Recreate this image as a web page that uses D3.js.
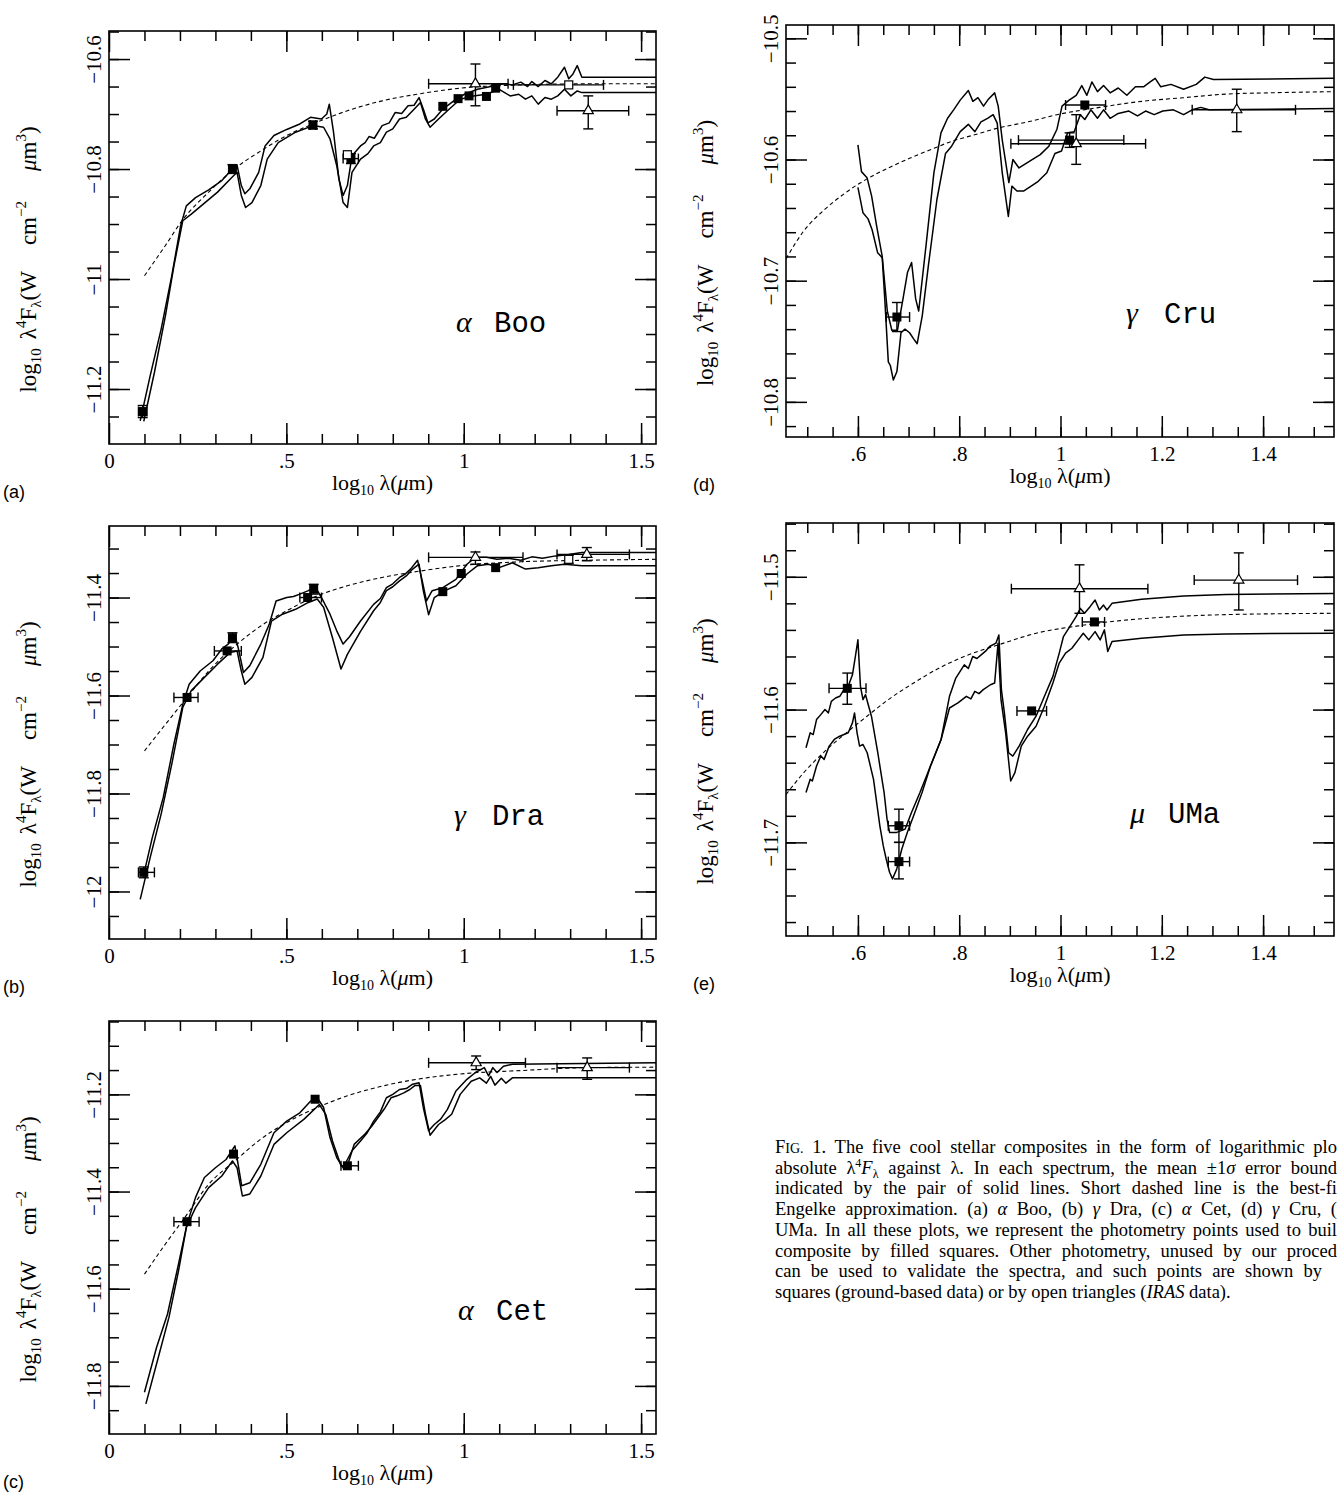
<!DOCTYPE html>
<html>
<head>
<meta charset="utf-8">
<script src="https://cdn.jsdelivr.net/npm/d3@7"></script>
<style>
  body { margin: 0; background: #fff; }
  svg { display: block; }
</style>
</head>
<body>
<svg id="fig" width="1337" height="1492"></svg>
<script>
// ---- (a) alpha Boo ----
var booHi = [[0.088,-11.258],[0.116,-11.176],[0.147,-11.091],[0.177,-10.994],[0.202,-10.903],[0.218,-10.867],[0.244,-10.852],[0.281,-10.838],[0.318,-10.821],[0.348,-10.800],[0.361,-10.793],[0.373,-10.830],[0.383,-10.845],[0.397,-10.836],[0.422,-10.806],[0.440,-10.758],[0.465,-10.739],[0.501,-10.728],[0.538,-10.718],[0.568,-10.706],[0.599,-10.709],[0.614,-10.700],[0.621,-10.682],[0.633,-10.733],[0.648,-10.818],[0.660,-10.848],[0.672,-10.830],[0.685,-10.776],[0.709,-10.758],[0.722,-10.752],[0.733,-10.741],[0.748,-10.744],[0.770,-10.721],[0.790,-10.716],[0.807,-10.697],[0.825,-10.699],[0.843,-10.685],[0.860,-10.684],[0.874,-10.670],[0.886,-10.691],[0.899,-10.716],[0.917,-10.709],[0.941,-10.691],[0.972,-10.676],[1.002,-10.664],[1.039,-10.655],[1.076,-10.650],[1.112,-10.645],[1.137,-10.647],[1.161,-10.642],[1.180,-10.650],[1.192,-10.641],[1.210,-10.650],[1.229,-10.639],[1.247,-10.645],[1.265,-10.633],[1.284,-10.615],[1.296,-10.636],[1.308,-10.627],[1.320,-10.612],[1.333,-10.633],[1.542,-10.633]];
var booLo = [[0.098,-11.259],[0.128,-11.170],[0.159,-11.067],[0.183,-10.976],[0.208,-10.894],[0.232,-10.882],[0.269,-10.862],[0.306,-10.842],[0.342,-10.818],[0.361,-10.806],[0.373,-10.848],[0.385,-10.870],[0.403,-10.861],[0.428,-10.830],[0.446,-10.782],[0.477,-10.752],[0.526,-10.733],[0.575,-10.721],[0.605,-10.724],[0.623,-10.745],[0.642,-10.794],[0.660,-10.861],[0.672,-10.870],[0.685,-10.806],[0.709,-10.782],[0.730,-10.772],[0.746,-10.758],[0.765,-10.752],[0.782,-10.733],[0.800,-10.727],[0.819,-10.709],[0.838,-10.706],[0.856,-10.694],[0.878,-10.679],[0.892,-10.709],[0.905,-10.724],[0.929,-10.709],[0.954,-10.694],[0.990,-10.673],[1.027,-10.667],[1.064,-10.664],[1.100,-10.655],[1.131,-10.667],[1.155,-10.664],[1.174,-10.673],[1.192,-10.667],[1.210,-10.682],[1.229,-10.670],[1.247,-10.673],[1.265,-10.667],[1.284,-10.655],[1.302,-10.667],[1.320,-10.658],[1.333,-10.661],[1.542,-10.661]];
var booFit = [[0.100,-10.994],[0.159,-10.939],[0.208,-10.892],[0.281,-10.842],[0.355,-10.799],[0.428,-10.767],[0.501,-10.739],[0.575,-10.718],[0.672,-10.694],[0.770,-10.676],[0.868,-10.664],[0.990,-10.653],[1.161,-10.647],[1.345,-10.645],[1.542,-10.645]];
var booSq = [
  {x:0.095, y:-11.241, ex:[0.083,0.107], ey:[-11.252,-11.230]},
  {x:0.348, y:-10.800, ex:[0.340,0.356], ey:[-10.808,-10.792]},
  {x:0.575, y:-10.720, ex:[0.567,0.583], ey:[-10.727,-10.713]},
  {x:0.682, y:-10.781, ex:[0.660,0.703], ey:[-10.790,-10.772]},
  {x:0.941, y:-10.686}, {x:0.984, y:-10.672}, {x:1.015, y:-10.667},
  {x:1.064, y:-10.668}, {x:1.090, y:-10.653}
];
var booOpen = [{x:0.672, y:-10.774}, {x:1.296, y:-10.647, ex:[1.140,1.394]}];
var booTri = [
  {x:1.033, y:-10.645, ex:[0.901,1.125], ey:[-10.685,-10.609]},
  {x:1.351, y:-10.694, ex:[1.263,1.465], ey:[-10.727,-10.667]}
];

// ---- (b) gamma Dra ----
var draHi = [[0.098,-11.965],[0.122,-11.890],[0.153,-11.808],[0.183,-11.699],[0.208,-11.618],[0.226,-11.577],[0.257,-11.550],[0.293,-11.529],[0.318,-11.505],[0.336,-11.495],[0.355,-11.478],[0.364,-11.502],[0.379,-11.553],[0.397,-11.539],[0.428,-11.495],[0.452,-11.454],[0.471,-11.407],[0.501,-11.400],[0.520,-11.398],[0.538,-11.393],[0.562,-11.386],[0.581,-11.378],[0.599,-11.400],[0.623,-11.434],[0.642,-11.468],[0.660,-11.495],[0.678,-11.480],[0.709,-11.448],[0.746,-11.414],[0.765,-11.402],[0.782,-11.380],[0.800,-11.372],[0.819,-11.359],[0.835,-11.352],[0.850,-11.342],[0.870,-11.324],[0.883,-11.366],[0.895,-11.407],[0.911,-11.386],[0.941,-11.380],[0.978,-11.363],[1.009,-11.332],[1.033,-11.318],[1.064,-11.318],[1.094,-11.322],[1.125,-11.320],[1.161,-11.324],[1.192,-11.317],[1.222,-11.320],[1.259,-11.315],[1.296,-11.312],[1.333,-11.308],[1.542,-11.308]];
var draLo = [[0.088,-12.016],[0.116,-11.931],[0.147,-11.842],[0.177,-11.740],[0.208,-11.624],[0.232,-11.590],[0.269,-11.563],[0.306,-11.536],[0.342,-11.512],[0.361,-11.509],[0.373,-11.550],[0.383,-11.577],[0.403,-11.563],[0.434,-11.522],[0.458,-11.448],[0.489,-11.434],[0.526,-11.424],[0.562,-11.410],[0.587,-11.403],[0.605,-11.420],[0.630,-11.482],[0.654,-11.546],[0.672,-11.516],[0.709,-11.469],[0.746,-11.427],[0.765,-11.410],[0.782,-11.386],[0.800,-11.378],[0.819,-11.366],[0.838,-11.356],[0.856,-11.342],[0.874,-11.332],[0.886,-11.386],[0.901,-11.435],[0.917,-11.400],[0.947,-11.386],[0.978,-11.376],[1.009,-11.352],[1.039,-11.335],[1.070,-11.332],[1.100,-11.339],[1.137,-11.329],[1.174,-11.342],[1.210,-11.339],[1.247,-11.335],[1.284,-11.332],[1.333,-11.335],[1.542,-11.335]];
var draFit = [[0.100,-11.713],[0.159,-11.659],[0.220,-11.604],[0.281,-11.550],[0.355,-11.499],[0.428,-11.458],[0.501,-11.427],[0.575,-11.400],[0.672,-11.376],[0.770,-11.359],[0.868,-11.347],[0.990,-11.335],[1.161,-11.327],[1.345,-11.324],[1.542,-11.322]];
var draSq = [
  {x:0.098, y:-11.961, ex:[0.083,0.128], ey:[-11.972,-11.950]},
  {x:0.220, y:-11.604, ex:[0.183,0.251]},
  {x:0.333, y:-11.509, ex:[0.297,0.373]},
  {x:0.348, y:-11.482, ey:[-11.492,-11.472]},
  {x:0.560, y:-11.400, ex:[0.538,0.599]},
  {x:0.577, y:-11.383, ey:[-11.393,-11.373]},
  {x:0.941, y:-11.388}, {x:0.993, y:-11.351}, {x:1.090, y:-11.339}
];
var draOpen = [{x:1.296, y:-11.322, ey:[-11.330,-11.314]}];
var draTri = [
  {x:1.033, y:-11.318, ex:[0.901,1.167], ey:[-11.332,-11.307]},
  {x:1.347, y:-11.312, ex:[1.263,1.467], ey:[-11.325,-11.298]}
];

// ---- (c) alpha Cet ----
var cetHi = [[0.100,-11.813],[0.134,-11.721],[0.165,-11.652],[0.196,-11.549],[0.220,-11.467],[0.244,-11.412],[0.269,-11.371],[0.300,-11.351],[0.330,-11.334],[0.355,-11.306],[0.364,-11.344],[0.374,-11.388],[0.397,-11.382],[0.428,-11.344],[0.465,-11.279],[0.501,-11.255],[0.538,-11.238],[0.568,-11.214],[0.587,-11.207],[0.605,-11.227],[0.623,-11.289],[0.642,-11.330],[0.660,-11.351],[0.685,-11.316],[0.709,-11.296],[0.728,-11.279],[0.746,-11.255],[0.765,-11.236],[0.782,-11.207],[0.800,-11.200],[0.819,-11.190],[0.838,-11.188],[0.856,-11.179],[0.874,-11.176],[0.886,-11.227],[0.901,-11.275],[0.917,-11.262],[0.935,-11.251],[0.954,-11.231],[0.978,-11.193],[1.009,-11.169],[1.033,-11.155],[1.058,-11.145],[1.070,-11.162],[1.082,-11.145],[1.094,-11.155],[1.112,-11.142],[1.137,-11.138],[1.542,-11.135]];
var cetLo = [[0.104,-11.837],[0.134,-11.755],[0.169,-11.659],[0.196,-11.563],[0.218,-11.474],[0.244,-11.433],[0.281,-11.392],[0.318,-11.368],[0.348,-11.337],[0.361,-11.351],[0.376,-11.409],[0.397,-11.405],[0.428,-11.368],[0.465,-11.303],[0.501,-11.279],[0.550,-11.251],[0.593,-11.221],[0.611,-11.241],[0.630,-11.296],[0.654,-11.347],[0.672,-11.347],[0.691,-11.303],[0.721,-11.282],[0.740,-11.266],[0.758,-11.248],[0.778,-11.228],[0.795,-11.207],[0.812,-11.203],[0.831,-11.197],[0.848,-11.190],[0.862,-11.182],[0.878,-11.182],[0.892,-11.240],[0.905,-11.284],[0.929,-11.262],[0.948,-11.252],[0.966,-11.241],[0.990,-11.200],[1.021,-11.173],[1.045,-11.166],[1.064,-11.177],[1.076,-11.163],[1.088,-11.181],[1.106,-11.167],[1.119,-11.177],[1.137,-11.166],[1.542,-11.166]];
var cetFit = [[0.100,-11.570],[0.159,-11.508],[0.220,-11.447],[0.281,-11.385],[0.355,-11.337],[0.428,-11.292],[0.501,-11.258],[0.575,-11.231],[0.672,-11.203],[0.770,-11.183],[0.868,-11.169],[0.990,-11.158],[1.161,-11.151],[1.345,-11.145],[1.542,-11.144]];
var cetSq = [
  {x:0.220, y:-11.462, ex:[0.183,0.254]},
  {x:0.351, y:-11.323},
  {x:0.581, y:-11.210},
  {x:0.672, y:-11.347, ex:[0.654,0.703]}
];
var cetOpen = [];
var cetTri = [
  {x:1.035, y:-11.135, ex:[0.901,1.174], ey:[-11.149,-11.121]},
  {x:1.348, y:-11.145, ex:[1.263,1.467], ey:[-11.169,-11.125]}
];

// ---- (d) gamma Cru ----
var cruHi = [[0.600,-10.588],[0.607,-10.610],[0.618,-10.615],[0.627,-10.630],[0.637,-10.655],[0.648,-10.680],[0.658,-10.725],[0.667,-10.741],[0.678,-10.741],[0.689,-10.715],[0.698,-10.693],[0.706,-10.685],[0.714,-10.715],[0.720,-10.725],[0.735,-10.669],[0.750,-10.611],[0.764,-10.578],[0.777,-10.566],[0.789,-10.559],[0.802,-10.551],[0.818,-10.543],[0.827,-10.552],[0.837,-10.549],[0.848,-10.556],[0.858,-10.550],[0.870,-10.545],[0.877,-10.556],[0.885,-10.584],[0.898,-10.619],[0.906,-10.600],[0.918,-10.607],[0.933,-10.603],[0.948,-10.599],[0.960,-10.596],[0.977,-10.589],[0.993,-10.575],[1.003,-10.556],[1.017,-10.551],[1.031,-10.547],[1.042,-10.539],[1.052,-10.547],[1.062,-10.536],[1.073,-10.544],[1.085,-10.539],[1.098,-10.545],[1.114,-10.541],[1.131,-10.547],[1.148,-10.540],[1.164,-10.540],[1.177,-10.536],[1.187,-10.533],[1.198,-10.540],[1.218,-10.538],[1.243,-10.542],[1.268,-10.538],[1.285,-10.532],[1.302,-10.534],[1.540,-10.533]];
var cruLo = [[0.600,-10.623],[0.610,-10.644],[0.620,-10.649],[0.628,-10.658],[0.639,-10.677],[0.648,-10.681],[0.653,-10.715],[0.660,-10.767],[0.664,-10.770],[0.670,-10.782],[0.677,-10.775],[0.685,-10.743],[0.693,-10.740],[0.702,-10.743],[0.710,-10.748],[0.717,-10.752],[0.727,-10.729],[0.739,-10.688],[0.756,-10.633],[0.773,-10.595],[0.785,-10.589],[0.802,-10.577],[0.818,-10.571],[0.831,-10.577],[0.843,-10.569],[0.856,-10.566],[0.867,-10.563],[0.875,-10.570],[0.885,-10.611],[0.897,-10.647],[0.904,-10.622],[0.914,-10.626],[0.927,-10.626],[0.942,-10.622],[0.956,-10.618],[0.973,-10.611],[0.989,-10.595],[1.002,-10.593],[1.014,-10.578],[1.027,-10.577],[1.039,-10.563],[1.048,-10.567],[1.060,-10.559],[1.073,-10.566],[1.085,-10.559],[1.098,-10.566],[1.114,-10.562],[1.135,-10.560],[1.152,-10.564],[1.168,-10.560],[1.185,-10.563],[1.202,-10.560],[1.223,-10.559],[1.243,-10.563],[1.260,-10.559],[1.277,-10.557],[1.293,-10.559],[1.540,-10.558]];
var cruFit = [[0.458,-10.682],[0.493,-10.659],[0.535,-10.641],[0.577,-10.627],[0.618,-10.616],[0.660,-10.607],[0.702,-10.599],[0.743,-10.592],[0.785,-10.585],[0.827,-10.580],[0.877,-10.574],[0.935,-10.569],[0.993,-10.563],[1.077,-10.557],[1.160,-10.552],[1.243,-10.549],[1.327,-10.546],[1.410,-10.545],[1.540,-10.544]];
var cruSq = [
  {x:0.677, y:-10.730, ex:[0.656,0.702], ey:[-10.742,-10.718]},
  {x:1.018, y:-10.584, ex:[0.917,1.125], ey:[-10.590,-10.578]},
  {x:1.048, y:-10.555, ex:[1.010,1.089]}
];
var cruOpen = [];
var cruTri = [
  {x:1.031, y:-10.587, ex:[0.902,1.168], ey:[-10.604,-10.563]},
  {x:1.348, y:-10.559, ex:[1.260,1.464], ey:[-10.577,-10.542]}
];

// ---- (e) mu UMa ----
var umaHi = [[0.4975,-11.6288],[0.5058,-11.6175],[0.5117,-11.6188],[0.5183,-11.6075],[0.5267,-11.6038],[0.5350,-11.6000],[0.5417,-11.6025],[0.5475,-11.5938],[0.5558,-11.5913],[0.5642,-11.5900],[0.5725,-11.5850],[0.5808,-11.5825],[0.5892,-11.5738],[0.5950,-11.5600],[0.6000,-11.5475],[0.6050,-11.5825],[0.6100,-11.5925],[0.6150,-11.5888],[0.6267,-11.6050],[0.6392,-11.6325],[0.6517,-11.6625],[0.6575,-11.6825],[0.6625,-11.6925],[0.6767,-11.6925],[0.6933,-11.6900],[0.7058,-11.6775],[0.7225,-11.6625],[0.7433,-11.6425],[0.7642,-11.6225],[0.7808,-11.5900],[0.7933,-11.5763],[0.8100,-11.5663],[0.8180,-11.5690],[0.8267,-11.5600],[0.8350,-11.5615],[0.8433,-11.5588],[0.8520,-11.5560],[0.8600,-11.5525],[0.8725,-11.5500],[0.8783,-11.5438],[0.8833,-11.5850],[0.8892,-11.6025],[0.8975,-11.6325],[0.9058,-11.6350],[0.9183,-11.6275],[0.9350,-11.6150],[0.9517,-11.6050],[0.9683,-11.5900],[0.9850,-11.5750],[0.9975,-11.5575],[1.0058,-11.5450],[1.0183,-11.5375],[1.0308,-11.5300],[1.0392,-11.5238],[1.0475,-11.5275],[1.0583,-11.5225],[1.0683,-11.5175],[1.0767,-11.5250],[1.0850,-11.5213],[1.0917,-11.5250],[1.1017,-11.5200],[1.1600,-11.5170],[1.2433,-11.5145],[1.3267,-11.5133],[1.5400,-11.5125]];
var umaLo = [[0.4975,-11.6625],[0.5058,-11.6525],[0.5100,-11.6538],[0.5183,-11.6425],[0.5267,-11.6350],[0.5333,-11.6375],[0.5433,-11.6275],[0.5533,-11.6225],[0.5617,-11.6205],[0.5725,-11.6188],[0.5808,-11.6175],[0.5892,-11.6100],[0.5933,-11.6025],[0.5983,-11.6175],[0.6033,-11.6275],[0.6100,-11.6263],[0.6183,-11.6325],[0.6308,-11.6525],[0.6433,-11.6875],[0.6500,-11.7025],[0.6558,-11.7125],[0.6625,-11.7225],[0.6683,-11.7275],[0.6767,-11.7200],[0.6867,-11.7050],[0.6975,-11.6925],[0.7100,-11.6800],[0.7267,-11.6625],[0.7433,-11.6425],[0.7642,-11.6225],[0.7808,-11.5988],[0.7975,-11.5950],[0.8142,-11.5900],[0.8230,-11.5920],[0.8308,-11.5863],[0.8390,-11.5880],[0.8475,-11.5850],[0.8617,-11.5813],[0.8700,-11.5800],[0.8767,-11.5500],[0.8825,-11.5925],[0.8917,-11.6175],[0.9017,-11.6538],[0.9100,-11.6475],[0.9225,-11.6275],[0.9350,-11.6200],[0.9517,-11.6125],[0.9683,-11.5975],[0.9850,-11.5800],[0.9975,-11.5650],[1.0100,-11.5575],[1.0225,-11.5538],[1.0350,-11.5475],[1.0450,-11.5425],[1.0558,-11.5475],[1.0683,-11.5413],[1.0783,-11.5475],[1.0867,-11.5400],[1.0933,-11.5563],[1.1017,-11.5488],[1.1600,-11.5463],[1.2433,-11.5438],[1.3267,-11.5430],[1.5400,-11.5425]];
var umaFit = [[0.458,-11.664],[0.493,-11.6475],[0.535,-11.6313],[0.577,-11.6175],[0.618,-11.6050],[0.660,-11.5925],[0.710,-11.5800],[0.760,-11.5688],[0.810,-11.5600],[0.877,-11.5513],[0.952,-11.5425],[1.035,-11.5370],[1.118,-11.5330],[1.202,-11.5305],[1.327,-11.5285],[1.540,-11.5275]];
var umaSq = [
  {x:0.579, y:-11.584, ex:[0.543,0.616], ey:[-11.596,-11.5725]},
  {x:0.681, y:-11.6875, ex:[0.660,0.702], ey:[-11.700,-11.675]},
  {x:0.681, y:-11.7145, ex:[0.660,0.702], ey:[-11.7275,-11.700]},
  {x:0.943, y:-11.601, ex:[0.914,0.9725]},
  {x:1.067, y:-11.534, ex:[1.043,1.087]}
];
var umaOpen = [];
var umaTri = [
  {x:1.0375, y:-11.509, ex:[0.903,1.1725], ey:[-11.5275,-11.491]},
  {x:1.352, y:-11.5025, ex:[1.264,1.468], ey:[-11.525,-11.482]}
];

// axis ticks and labels
var xMajorAC = [0, 0.5, 1, 1.5], xLabelAC = ["0", ".5", "1", "1.5"];
var xMajorDE = [0.6, 0.8, 1, 1.2, 1.4], xLabelDE = [".6", ".8", "1", "1.2", "1.4"];
var yMajorA = [-11.2, -11, -10.8, -10.6], yLabelA = ["\u221211.2", "\u221211", "\u221210.8", "\u221210.6"];
var yMajorB = [-12, -11.8, -11.6, -11.4], yLabelB = ["\u221212", "\u221211.8", "\u221211.6", "\u221211.4"];
var yMajorC = [-11.8, -11.6, -11.4, -11.2], yLabelC = ["\u221211.8", "\u221211.6", "\u221211.4", "\u221211.2"];
var yMajorD = [-10.8, -10.7, -10.6, -10.5], yLabelD = ["\u221210.8", "\u221210.7", "\u221210.6", "\u221210.5"];
var yMajorE = [-11.7, -11.6, -11.5], yLabelE = ["\u221211.7", "\u221211.6", "\u221211.5"];

var panels = [
  {key:"a", greek:"\u03b1", star:"Boo", hi:booHi, lo:booLo, fit:booFit, sq:booSq, open:booOpen, tri:booTri,
   l:109, t:31, r:656, b:444, xd:[0, 1.542], yd:[-11.30, -10.549], xStep:0.1, yStep:0.05,
   xMaj:xMajorAC, xLab:xLabelAC, yMaj:yMajorA, yLab:yLabelA, sx:456, sy:332},
  {key:"b", greek:"\u03b3", star:"Dra", hi:draHi, lo:draLo, fit:draFit, sq:draSq, open:draOpen, tri:draTri,
   l:109, t:526, r:656, b:939, xd:[0, 1.542], yd:[-12.097, -11.254], xStep:0.1, yStep:0.05,
   xMaj:xMajorAC, xLab:xLabelAC, yMaj:yMajorB, yLab:yLabelB, sx:454, sy:825},
  {key:"c", greek:"\u03b1", star:"Cet", hi:cetHi, lo:cetLo, fit:cetFit, sq:cetSq, open:cetOpen, tri:cetTri,
   l:109, t:1021, r:656, b:1434, xd:[0, 1.542], yd:[-11.899, -11.049], xStep:0.1, yStep:0.05,
   xMaj:xMajorAC, xLab:xLabelAC, yMaj:yMajorC, yLab:yLabelC, sx:458, sy:1320},
  {key:"d", greek:"\u03b3", star:"Cru", hi:cruHi, lo:cruLo, fit:cruFit, sq:cruSq, open:cruOpen, tri:cruTri,
   l:786, t:25, r:1334, b:437, xd:[0.458, 1.540], yd:[-10.829, -10.489], xStep:0.05, yStep:0.02,
   xMaj:xMajorDE, xLab:xLabelDE, yMaj:yMajorD, yLab:yLabelD, sx:1126, sy:323},
  {key:"e", greek:"\u03bc", star:"UMa", hi:umaHi, lo:umaLo, fit:umaFit, sq:umaSq, open:umaOpen, tri:umaTri,
   l:786, t:523, r:1334, b:936, xd:[0.458, 1.540], yd:[-11.7705, -11.4595], xStep:0.05, yStep:0.02,
   xMaj:xMajorDE, xLab:xLabelDE, yMaj:yMajorE, yLab:yLabelE, sx:1130, sy:823}
];

var svg = d3.select("#fig");
var serif = "'Liberation Serif', 'Times New Roman', serif";

function minors(dom, step) {
  var lo = Math.min(dom[0], dom[1]), hi = Math.max(dom[0], dom[1]);
  return d3.range(Math.ceil(lo / step + 1e-6), Math.floor(hi / step - 1e-6) + 1).map(function(i) { return i * step; });
}

function tickGroup(g, gen, tr) {
  var a = g.append("g").attr("transform", tr).call(gen);
  a.select(".domain").remove();
  a.selectAll("line").attr("stroke", "#000").attr("stroke-width", 1.5);
  a.attr("font-family", serif).attr("font-size", 21);
  a.selectAll("text").attr("fill", "#000");
  return a;
}

function drawPanel(p) {
  var x = d3.scaleLinear().domain(p.xd).range([p.l, p.r]);
  var y = d3.scaleLinear().domain(p.yd).range([p.b, p.t]);
  var g = svg.append("g").attr("class", "panel-" + p.key);

  var cid = "clip-" + p.key;
  svg.append("clipPath").attr("id", cid).append("rect")
    .attr("x", p.l).attr("y", p.t).attr("width", p.r - p.l).attr("height", p.b - p.t);
  var plot = g.append("g").attr("clip-path", "url(#" + cid + ")");

  var line = d3.line().x(function(d) { return x(d[0]); }).y(function(d) { return y(d[1]); });
  var smooth = d3.line().x(function(d) { return x(d[0]); }).y(function(d) { return y(d[1]); }).curve(d3.curveMonotoneX);

  [p.hi, p.lo].forEach(function(s) {
    plot.append("path").datum(s).attr("d", line)
      .attr("fill", "none").attr("stroke", "#000").attr("stroke-width", 1.5)
      .attr("stroke-linejoin", "round");
  });
  plot.append("path").datum(p.fit).attr("d", smooth)
    .attr("fill", "none").attr("stroke", "#000").attr("stroke-width", 1.1)
    .attr("stroke-dasharray", "4,3");

  // error bars
  var pts = p.sq.concat(p.open, p.tri);
  var eb = plot.append("g").attr("stroke", "#000").attr("stroke-width", 1.4);
  pts.forEach(function(d) {
    if (d.ex) {
      eb.append("line").attr("x1", x(d.ex[0])).attr("x2", x(d.ex[1])).attr("y1", y(d.y)).attr("y2", y(d.y));
      d.ex.forEach(function(v) {
        eb.append("line").attr("x1", x(v)).attr("x2", x(v)).attr("y1", y(d.y) - 5).attr("y2", y(d.y) + 5);
      });
    }
    if (d.ey) {
      eb.append("line").attr("x1", x(d.x)).attr("x2", x(d.x)).attr("y1", y(d.ey[0])).attr("y2", y(d.ey[1]));
      d.ey.forEach(function(v) {
        eb.append("line").attr("x1", x(d.x) - 5).attr("x2", x(d.x) + 5).attr("y1", y(v)).attr("y2", y(v));
      });
    }
  });

  plot.selectAll(".sq").data(p.sq).enter().append("rect")
    .attr("x", function(d) { return x(d.x) - 4.5; }).attr("y", function(d) { return y(d.y) - 4.5; })
    .attr("width", 9).attr("height", 9).attr("fill", "#000");
  plot.selectAll(".osq").data(p.open).enter().append("rect")
    .attr("x", function(d) { return x(d.x) - 4; }).attr("y", function(d) { return y(d.y) - 4; })
    .attr("width", 8).attr("height", 8).attr("fill", "#fff").attr("stroke", "#000").attr("stroke-width", 1.2);
  plot.selectAll(".tri").data(p.tri).enter().append("path")
    .attr("d", d3.symbol().type(d3.symbolTriangle).size(45))
    .attr("transform", function(d) { return "translate(" + x(d.x) + "," + y(d.y) + ")"; })
    .attr("fill", "#fff").attr("stroke", "#000").attr("stroke-width", 1.2);

  // ticks on four sides, pointing inwards
  var xMin = minors(p.xd, p.xStep), yMin = minors(p.yd, p.yStep);
  tickGroup(g, d3.axisBottom(x).tickValues(xMin).tickSize(-10).tickFormat(""), "translate(0," + p.b + ")");
  var bx = tickGroup(g, d3.axisBottom(x).tickValues(p.xMaj).tickSize(-21).tickFormat(function(d, i) { return p.xLab[i]; }), "translate(0," + p.b + ")");
  bx.selectAll("text").attr("y", 9);
  tickGroup(g, d3.axisTop(x).tickValues(xMin).tickSize(-10).tickFormat(""), "translate(0," + p.t + ")");
  tickGroup(g, d3.axisTop(x).tickValues(p.xMaj).tickSize(-21).tickFormat(""), "translate(0," + p.t + ")");
  tickGroup(g, d3.axisLeft(y).tickValues(yMin).tickSize(-10).tickFormat(""), "translate(" + p.l + ",0)");
  var ly = tickGroup(g, d3.axisLeft(y).tickValues(p.yMaj).tickSize(-21).tickFormat(function(d, i) { return p.yLab[i]; }), "translate(" + p.l + ",0)");
  ly.selectAll("text").attr("x", 0).attr("y", -8).attr("dy", null)
    .attr("text-anchor", "middle").attr("transform", "rotate(-90)");
  tickGroup(g, d3.axisRight(y).tickValues(yMin).tickSize(-10).tickFormat(""), "translate(" + p.r + ",0)");
  tickGroup(g, d3.axisRight(y).tickValues(p.yMaj).tickSize(-21).tickFormat(""), "translate(" + p.r + ",0)");

  g.append("rect").attr("x", p.l).attr("y", p.t).attr("width", p.r - p.l).attr("height", p.b - p.t)
    .attr("fill", "none").attr("stroke", "#000").attr("stroke-width", 1.6);

  // x title
  var xt = g.append("text").attr("x", (p.l + p.r) / 2).attr("y", p.b + 46)
    .attr("text-anchor", "middle").attr("font-family", serif).attr("font-size", 22);
  xt.append("tspan").text("log");
  xt.append("tspan").attr("font-size", 14).attr("dy", 5).text("10");
  xt.append("tspan").attr("dy", -5).text("\u00a0\u03bb(");
  xt.append("tspan").attr("font-style", "italic").text("\u03bc");
  xt.append("tspan").text("m)");

  // y title
  var yt = g.append("text")
    .attr("transform", "translate(" + (p.l - 73) + "," + ((p.t + p.b) / 2 + 22) + ") rotate(-90)")
    .attr("text-anchor", "middle").attr("font-family", serif).attr("font-size", 23);
  yt.append("tspan").text("log");
  yt.append("tspan").attr("font-size", 15).attr("dy", 5).text("10");
  yt.append("tspan").attr("dy", -5).attr("dx", 9).text("\u03bb");
  yt.append("tspan").attr("font-size", 15).attr("dy", -10).text("4");
  yt.append("tspan").attr("dy", 10).text("F");
  yt.append("tspan").attr("font-size", 15).attr("dy", 5).text("\u03bb");
  yt.append("tspan").attr("dy", -5).text("(W");
  yt.append("tspan").attr("dx", 26).text("cm");
  yt.append("tspan").attr("font-size", 15).attr("dy", -10).text("\u22122");
  yt.append("tspan").attr("dy", 10).attr("dx", 30).attr("font-style", "italic").text("\u03bc");
  yt.append("tspan").text("m");
  yt.append("tspan").attr("font-size", 15).attr("dy", -10).text("3");
  yt.append("tspan").attr("dy", 10).text(")");

  // star name
  g.append("text").attr("x", p.sx).attr("y", p.sy)
    .attr("font-family", serif).attr("font-style", "italic").attr("font-size", 30).text(p.greek);
  g.append("text").attr("x", p.sx + 38).attr("y", p.sy)
    .attr("font-family", "'Liberation Mono', 'Courier New', monospace").attr("font-size", 29).text(p.star);

  // panel letter
  g.append("text").attr("x", p.l < 400 ? 3 : 693).attr("y", p.b + 54)
    .attr("font-family", "'Liberation Sans', Arial, sans-serif").attr("font-size", 18)
    .text("(" + p.key + ")");
}

panels.forEach(drawPanel);

// caption
var capX = 775, capY = 1153, capDy = 20.7;
var cap = svg.append("g").attr("font-family", serif).attr("font-size", 18.5).attr("fill", "#000");
var capLines = [
  [["F", {}], ["IG.", {size: 14}], [" 1. The five cool stellar composites in the form of logarithmic plo", {}]],
  [["absolute \u03bb", {}], ["4", {sup: true}], ["F", {it: true}], ["\u03bb", {sub: true}], [" against \u03bb. In each spectrum, the mean \u00b11", {}], ["\u03c3", {it: true}], [" error bound", {}]],
  [["indicated by the pair of solid lines. Short dashed line is the best-fi", {}]],
  [["Engelke approximation. (a) ", {}], ["\u03b1", {it: true}], [" Boo, (b) ", {}], ["\u03b3", {it: true}], [" Dra, (c) ", {}], ["\u03b1", {it: true}], [" Cet, (d) ", {}], ["\u03b3", {it: true}], [" Cru, (", {}]],
  [["UMa. In all these plots, we represent the photometry points used to buil", {}]],
  [["composite by filled squares. Other photometry, unused by our proced", {}]],
  [["can be used to validate the spectra, and such points are shown by", {}]],
  [["squares (ground-based data) or by open triangles (", {}], ["IRAS", {it: true}], [" data).", {}]]
];
var capTargets = [562, 562, 562, 562, 562, 562, 547, null];

capLines.forEach(function(parts, i) {
  var t = cap.append("text").attr("x", capX).attr("y", capY + i * capDy);
  parts.forEach(function(pt, k) {
    var s = t.append("tspan").text(pt[0]);
    var o = pt[1];
    if (o.size) s.attr("font-size", o.size);
    if (o.it) s.attr("font-style", "italic");
    if (o.sup) s.attr("font-size", 12).attr("dy", -7);
    if (o.sub) s.attr("font-size", 12).attr("dy", 4);
    var prev = k > 0 ? parts[k - 1][1] : null;
    if (prev && !o.sup && !o.sub) {
      if (prev.sup) s.attr("dy", 7);
      if (prev.sub) s.attr("dy", -4);
    }
    if (prev && prev.sup && o.sub) s.attr("dy", 11);
  });
  if (capTargets[i]) {
    var natural = t.node().getComputedTextLength();
    var spaces = parts.map(function(pt) { return pt[0]; }).join("").split(" ").length - 1;
    if (spaces > 0) t.attr("word-spacing", (capTargets[i] - natural) / spaces);
  }
});
</script>
</body>
</html>
